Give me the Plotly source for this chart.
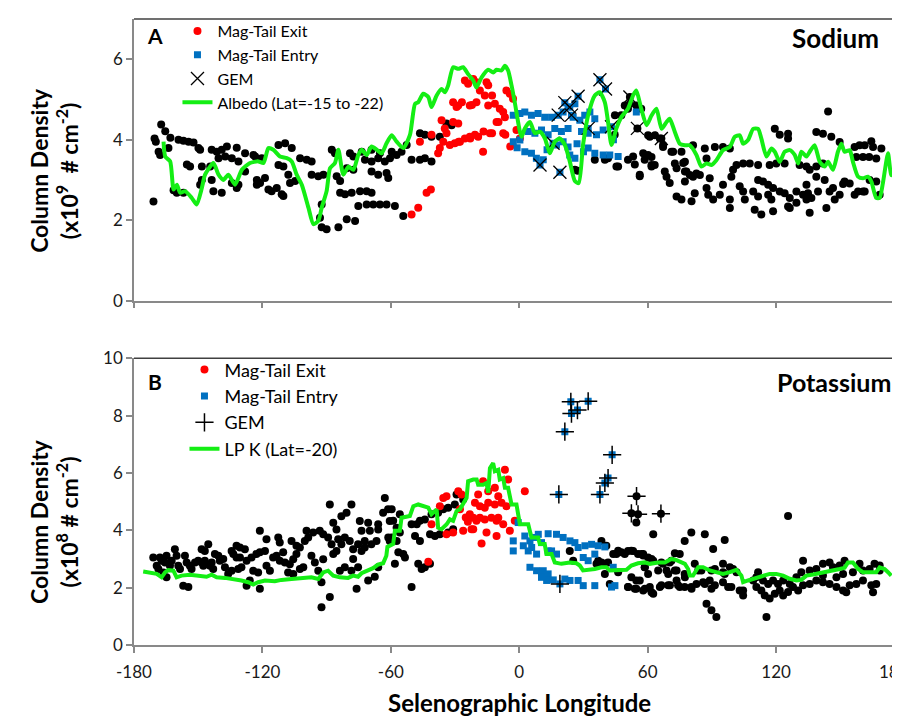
import plotly.graph_objects as go

# ---------------- Sodium (panel A) ----------------
na_background = [
    (-170.9,2.46),(-167.3,4.38),(-170.4,4.03),(-169.8,3.95),(-165.4,4.21),(-168.5,3.7),(-167.8,3.62),(-163,4.05),(-163.9,3.79),
    (-161.5,2.74),(-160,2.68),(-156.9,2.68),(-159.2,4.0),(-156.9,3.97),(-154.5,3.95),(-152.2,3.93),(-155.3,3.38),(-153.8,3.33),
    (-149.9,3.79),(-149.1,3.75),(-149.1,2.88),(-148.3,3.0),(-148.3,3.33),(-143.7,3.75),(-141.3,3.7),(-139,3.75),(-143.7,3.0),
    (-142.9,2.72),(-139,2.68),(-144.4,3.33),(-140.5,3.54),(-137.4,3.58),(-136.6,3.83),(-132,3.8),(-134.3,3.54),(-131.2,3.46),
    (-134.3,2.92),(-132,2.8),(-131.2,2.88),(-128.1,3.66),(-128.1,3.21),(-124.2,3.62),(-123.4,3.58),(-120.3,3.54),(-122.6,3.0),
    (-121.1,2.92),(-122.6,2.88),(-118.8,3.05),(-117.2,2.76),(-115.7,2.72),(-113.3,2.8),(-112.5,3.37),(-110.2,3.33),(-111,2.64),
    (-110.2,2.6),(-112.5,3.87),(-109.4,3.91),(-106.3,3.79),(-107.9,3.13),(-107.1,2.92),(-104.7,2.97),(-102.4,3.54),(-99.3,3.5),
    (-97,3.46),(-97,3.13),(-93.9,3.09),(-91.5,3.13),(-92.3,2.39),(-93.1,2.06),(-92.3,1.82),(-90,1.77),(-84.5,1.82),(-87.6,3.75),
    (-86.1,3.66),(-83.7,2.97),(-85.3,3.09),(-83.7,2.68),(-81.4,2.64),(-80.6,2.02),(-76.7,1.98),(-80.6,3.29),(-77.5,3.25),
    (-79.1,3.66),(-77.5,3.58),(-73.6,3.7),(-78.3,2.68),(-74.4,2.72),(-71.3,2.72),(-69,2.68),(-75.2,2.35),(-71.3,2.39),
    (-68.2,2.39),(-65.1,2.39),(-62,2.39),(-72.1,3.5),(-69,3.46),(-65.9,3.54),(-62.8,3.46),(-69,3.21),(-65.9,3.13),(-62,3.17),
    (-61.2,3.05),(-69,3.75),(-65.1,3.66),(-60.4,3.54),(-59.6,3.7),(-57.3,3.62),(-55,3.7),(-52.6,3.87),(-50.3,3.5),(-46.4,3.5),
    (-44.1,3.54),(-41,3.46),(-46.4,4.16),(-44.1,4.12),(-41,4.07),(-37.1,4.07),(-58.1,2.35),(-54.2,2.1),(-34,4.4),(-31.6,4.36),
    (27.3,3.23),(35.3,3.5),(40,3.5),(46.2,3.33),(50.8,3.5),(54,3.38),(56.3,3.13),(58.6,3.5),(47.7,4.61),(50.8,4.77),(54.7,4.85),
    (57,4.77),(44.6,4.12),(26,3.25),(41.5,3.54),(45.4,3.33),(53.2,3.58),(56.3,3.09),(57.9,3.66),(61.8,3.37),(49.3,4.85),
    (51.7,4.89),(44.7,4.61),(61,4.07),(63.4,4.11),(67.2,3.87),(71.1,3.7),(75.8,3.7),(76.6,3.42),(51.7,5.06),(55.2,4.28),(66.4,4.03),
    (144.3,4.7),(119.4,4.27),(121.7,4.12),(125.6,4.15),(125.6,4.03),(138.8,4.19),(141.9,4.15),(145.8,4.07),(149.7,3.94),
    (156.7,3.82),(159,3.86),(161.4,3.86),(164.5,3.96),(165.3,3.82),(169.2,3.78),(157.5,3.57),(160.6,3.57),(163.5,3.57),
    (166.8,3.53),(156.7,2.63),(161.4,2.71),(151.3,2.9),(154.4,2.91),(60.2,4.11),(65.7,4.03),(67.2,3.82),(60.2,3.62),
    (61.8,3.57),(63.3,3.37),(61.8,3.33),(68,3.21),(68.8,3.08),(70.3,2.92),(71.9,3.7),(72.7,3.41),(73.5,3.29),(77.4,3.45),
    (77.4,3.21),(78.1,3.21),(79.7,3.12),(81.2,3.08),(73.5,2.59),(75.8,2.51),(80.5,2.47),(77.4,2.96),(81.2,3.86),(82,2.67),
    (82.8,3.16),(86.7,3.78),(87.5,3.53),(91.4,3.82),(95.2,3.82),(98.4,3.78),(84.4,3.12),(89,3.04),(87.5,2.8),(88.3,2.63),
    (90.6,2.51),(93.7,2.63),(95.2,2.88),(99.1,3.08),(99.9,3.25),(101.5,3.37),(104.6,3.41),(107.7,3.41),(111.6,3.37),(98.4,2.51),
    (98.4,2.3),(103,2.84),(104.6,2.71),(105.4,2.51),(109.3,2.71),(111.6,2.59),(110,2.26),(113.1,2.14),(111.6,3.0),(113.9,2.96),
    (116.3,2.88),(118.6,2.8),(117,3.37),(120.1,3.41),(124,3.41),(116.3,2.63),(117.8,2.51),(118.6,2.22),(121.7,2.71),(124,2.67),
    (126.4,2.55),(129.5,2.71),(132.6,2.63),(134.9,2.67),(136.5,2.55),(139.6,2.71),(125.6,2.34),(126.4,2.3),(129.5,2.43),
    (134.2,2.51),(135.7,2.18),(131,3.37),(134.2,3.33),(135.7,3.25),(138.8,3.33),(141.9,3.41),(134.2,2.88),(138.8,3.08),
    (142.7,3.0),(143.5,2.3),(145,2.71),(146.6,2.8),(147.4,2.51),(149.7,2.63),(152,2.96),(158.3,2.71),(160.6,2.71),(163.7,3.0),
    (166.8,2.96),(168.4,2.63),
]
na_exit = [
    (-50.3,2.14),(-47.2,2.31),(-43.3,2.68),(-41.3,2.76),(-46.4,3.95),(-41,4.12),(-37.9,3.66),(-37.1,3.79),(-35.5,3.95),
    (-36.3,4.48),(-34.8,4.28),(-34,4.16),(-32.4,3.87),(-30.1,3.91),(-27.7,3.95),(-25.4,4.03),(-23.1,4.07),(-20.7,4.12),
    (-19.2,4.07),(-30.9,4.93),(-29.3,4.81),(-28.5,4.85),(-30.9,4.44),(-28.5,4.4),(-25.4,5.47),(-23.9,5.39),(-21.5,5.51),
    (-20,5.43),(-23.1,4.85),(-20,4.93),(-18.4,5.22),(-16.1,5.1),(-14.5,5.35),(-15.3,5.43),(-16.9,3.7),(-13.7,4.16),(-10.6,4.44),
    (-14.5,4.85),(-11.4,4.89),(-9.1,4.77),(-7.5,4.69),(-7.5,4.16),(-6,5.22),(-4.4,5.14),(-2.9,5.02),(-6.7,4.56),(-1.3,4.24),
    (0.3,4.03),(-26.8,4.93),(-22.1,4.86),(-12.7,5.1),(-9.7,4.44),(-28.3,3.95),(-22.9,4.03),(-16.7,4.2),(-12.7,4.16),
    (-4.2,3.83),(-6.5,4.12),
]
na_entry = [
    (-2.8,4.61),(0.3,4.65),(-2.8,3.95),(0.3,3.99),(2.6,4.69),(5.7,4.61),(8.8,4.65),(11.9,4.56),(15.1,4.56),(2.6,3.7),(5.7,3.66),
    (8,3.54),(11.2,3.5),(4.2,4.2),(7.3,4.16),(10.4,4.24),(13.5,4.12),(16.6,4.28),(19.7,4.2),(22.8,4.28),(17.4,3.87),(20.5,3.95),
    (22.8,3.82),(20.5,4.69),(22.8,4.81),(26,4.89),(25.2,4.56),(28.3,4.48),(30.6,4.61),(33,4.69),(35.3,4.52),(29.1,4.2),(32.2,4.16),
    (36.1,4.12),(39.2,4.24),(32.2,3.79),(35.3,3.66),(39.2,3.62),(42.3,3.62),(46.2,3.58),(23.6,3.62),(26,3.54),(37.7,5.49),
    (40.3,5.26),(54.7,4.69),(9.7,3.37),(19,3.19),(21.3,4.92),(27.5,5.08),(18.2,4.61),(24.4,4.61),(15.8,3.91),(43.1,4.32),
    (32.2,4.28),(-1,3.8),(13,3.75),(27,3.9),(30,3.7),(44,4.0),(23.6,4.81),
]
na_gem = [
    (9.7,3.37),(19,3.19),(21.3,4.92),(27.5,5.08),(18.2,4.61),(24.4,4.61),(37.7,5.49),(40.3,5.26),(51.7,5.06),(55.2,4.28),
    (66.4,4.03),(32.2,4.28),(15.8,3.91),(23.6,4.81),(43.1,4.32),
]
na_albedo = [
    (-166.2,3.95),(-165.4,3.58),(-163.1,3.46),(-161.5,2.76),(-160,2.88),(-158.4,2.68),(-156.1,2.72),(-153,2.55),(-150.7,2.39),
    (-148.3,2.8),(-146.8,3.13),(-142.9,3.42),(-140.5,3.13),(-138.2,3.0),(-135.9,3.13),(-132.8,2.88),(-129.6,3.25),(-125.8,3.42),
    (-121.9,3.46),(-119.5,3.42),(-117.2,3.79),(-114.9,3.75),(-111.8,3.58),(-108.6,3.54),(-106.3,3.46),(-104,3.13),(-101.6,2.88),
    (-98.5,2.31),(-96.2,1.9),(-93.9,1.98),(-92.3,2.31),(-90,2.72),(-88.4,3.29),(-86.1,3.42),(-84.5,3.75),(-82.2,3.13),
    (-79.8,3.33),(-77.5,3.25),(-75.2,3.62),(-73.6,3.75),(-71.3,3.62),(-69,3.83),(-66.6,3.75),(-64.3,3.66),(-62,3.91),
    (-59.6,4.11),(-57.3,3.95),(-54.2,3.79),(-51.1,4.11),(-48.7,4.89),(-47.2,4.93),(-44.9,5.14),(-42.5,5.06),(-41,4.81),
    (-38.6,5.1),(-36.3,5.26),(-34.7,5.18),(-33.2,5.35),(-30.9,5.8),(-28.5,5.76),(-26.2,5.8),(-23.9,5.63),(-21.5,5.47),
    (-20,5.3),(-17.6,5.55),(-14.5,5.74),(-12.2,5.67),(-10.6,5.74),(-8.3,5.72),(-6.7,5.84),(-5.2,5.72),(-3.6,5.35),(-2.1,4.93),
    (0.3,4.2),(1.1,4.07),(2.6,4.28),(5,4.44),(7.3,4.16),(9.6,4.2),(12,4.03),(14.3,3.66),(16.6,3.95),(19,4.03),(21.3,3.87),
    (23.6,3.46),(26,2.97),(27.8,2.92),(29.8,3.87),(32.2,4.61),(35.3,5.1),(37.6,5.18),(40,4.93),(41.5,4.44),(43.1,3.87),
    (45.4,4.28),(47.7,4.56),(50.8,4.77),(53.2,5.1),(54.7,5.22),(57,4.77),(59.5,4.36),(61.8,4.6),(64.1,4.77),(66.5,4.27),
    (68.8,4.44),(70.3,4.52),(72.7,4.19),(75,3.9),(77.4,3.86),(79.7,3.86),(82.8,3.62),(85.1,3.33),(87.5,3.41),(89.8,3.37),
    (92.1,3.49),(95.2,3.74),(98.4,3.82),(100.7,4.07),(103,4.11),(104.6,3.9),(106.9,3.99),(109.3,4.27),(111.6,4.27),(113.1,4.03),
    (115.5,3.58),(117.8,3.78),(119.4,3.7),(121.7,3.45),(124,3.7),(126.4,3.74),(128.7,3.62),(130.3,3.41),(131.8,3.7),(134.2,3.58),
    (135.7,3.7),(138,3.86),(140.4,3.45),(142.7,3.33),(144.3,3.45),(146.6,3.25),(148.9,3.7),(150.5,3.9),(152,3.7),(154.4,3.74),
    (155.9,3.45),(158.3,3.08),(160.6,3.04),(162.9,3.08),(164.5,2.96),(166.8,2.55),(168.4,2.55),(169.9,2.92),(172.3,3.66),
    (173.8,3.12),(174.6,3.12),
]

# ---------------- Potassium (panel B) ----------------
k_background = [
    (-171,3.05),(-169.4,2.76),(-167.9,3.05),(-167.1,2.94),(-165.5,2.88),(-164.8,3.11),(-168.6,2.65),(-166.3,2.53),(-164.8,2.36),
    (-163.2,2.76),(-160.9,3.34),(-160.1,3.11),(-162.4,2.94),(-159.3,2.76),(-158.5,2.65),(-157,2.07),(-154.6,2.02),(-156.2,3.11),
    (-155.4,2.88),(-153.9,2.76),(-153.1,2.65),(-151.5,2.88),(-150,2.94),(-148.4,2.88),(-147.6,2.76),(-148.4,3.34),(-146.9,3.28),
    (-145.3,3.51),(-146.9,2.94),(-144.5,2.76),(-143.7,2.88),(-143,2.65),(-142.2,3.17),(-140.6,3.11),(-139.9,2.94),(-138.3,3.0),
    (-137.5,2.71),(-136,2.48),(-134.4,2.59),(-134.4,3.28),(-133.6,3.17),(-132.1,3.05),(-130.5,3.05),(-132.1,3.46),(-130.5,3.4),
    (-128.2,3.34),(-131.3,2.65),(-129.8,2.71),(-127.4,2.07),(-125.9,2.25),(-127.4,2.94),(-125.1,3.05),(-122.8,3.17),(-121.2,3.23),
    (-118.8,3.28),(-124.3,2.59),(-122,2.53),(-121.2,1.96),(-121.2,3.98),(-118.1,3.69),(-118.1,2.76),(-116.5,2.59),(-115,3.05),
    (-113.4,3.11),(-111.9,2.94),(-110.3,3.23),(-112.6,3.75),(-111.9,3.57),(-109.5,2.88),(-107.2,2.82),(-105.6,2.99),(-104.1,3.17),
    (-106.4,3.63),(-104.1,3.46),(-102.5,3.4),(-100.2,3.63),(-108,2.53),(-105.6,2.48),(-102.5,2.65),(-100.9,2.71),(-99.4,3.98),
    (-98.6,3.75),(-96.3,3.92),(-97.1,3.11),(-95.5,2.88),(-93.2,3.98),(-91.6,3.86),(-92.4,2.19),(-92.4,1.32),(-88.5,1.67),
    (-91.6,2.99),(-93.9,2.59),(-88.5,4.9),(-86.9,4.26),(-85.4,4.03),(-83.1,4.49),(-80.7,4.61),(-78.4,4.9),(-89.3,3.75),
    (-87.7,3.51),(-84.6,3.69),(-85.4,3.28),(-83.1,3.51),(-81.5,3.75),(-79.2,3.63),(-86.9,3.17),(-83.8,2.59),(-81.5,2.71),
    (-78.4,2.59),(-77.6,3.34),(-75.3,3.51),(-73.7,3.28),(-72.2,3.4),(-77.6,3.0),(-75.3,2.71),(-76,1.96),(-74.5,4.32),(-73.7,3.98),
    (-70.6,4.26),(-69.8,3.98),(-72.2,3.63),(-69.1,3.51),(-66.7,3.63),(-65.9,4.03),(-65.9,4.21),(-70.6,2.25),(-67.5,2.38),
    (-65.9,2.71),(-62.8,5.13),(-63.6,4.61),(-61.3,4.73),(-60.5,4.32),(-60.5,3.63),(-59.6,4.73),(-55.8,4.56),(-58.9,4.33),
    (-57.3,4.09),(-55.8,3.92),(-61.2,3.75),(-59.6,3.75),(-57.3,3.63),(-56.5,3.23),(-54.2,3.17),(-53.4,3.05),(-58.1,2.83),
    (-47.2,2.83),(-45.6,2.65),(-44.1,2.71),(-41.7,2.83),(-50.3,2.02),(-50.3,4.21),(-47.9,4.21),(-46.4,4.33),(-48.7,3.8),
    (-46.4,3.63),(-44.1,4.38),(-41.7,3.86),(-39.4,3.8),(-37.1,3.86),(-41,4.56),(-37.9,4.61),(-35.5,4.73),(-33.2,4.79),(-30.1,4.9),
    (-29.3,5.25),(-26.2,5.07),(-33.2,3.92),(-30.9,4.04),
    (23.6,3.28),(25.2,2.94),(38.4,3.63),(40.7,3.46),(38.4,2.88),(36.1,2.83),(41.5,2.88),(45.4,3.17),(47.7,3.23),(50.8,3.28),
    (53.2,3.28),(55.5,3.17),(57.9,3.17),(60.2,3.05),(40,2.48),(42.3,2.13),(46.2,2.54),(50.8,2.02),(54.7,1.96),(57.9,1.9),
    (54.7,2.25),(58.6,2.71),(54.7,4.27),(54.8,5.19),(52.4,4.59),(55.5,4.56),(66.2,4.58),
    (62.6,3.86),(77.3,3.63),(80.4,3.92),(86.7,3.86),(90.6,3.35),(96,3.66),(125.6,4.5),(72.7,3.2),(70.3,2.88),(62.6,2.94),
    (67.2,2.83),(68.8,2.6),(73.5,2.6),(57.9,3.12),(58.7,2.71),(61,2.02),(62.6,1.79),(65.7,2.02),(69.6,2.08),(73.5,2.25),
    (75,2.02),(77.4,2.36),(80.5,1.96),(82.8,2.13),(85.9,2.19),(89,2.25),(91.4,2.08),(95.2,2.19),(97.6,2.02),(103,1.9),
    (104.6,1.73),(82,2.83),(85.1,2.6),(91.4,2.65),(95.2,2.54),(99.9,2.65),(87.5,1.44),(89.8,1.21),(92.1,0.98),(115.5,0.98),
    (111.6,2.54),(109.3,2.25),(110.8,2.02),(113.1,1.9),(114.7,1.73),(117,1.62),(119.4,1.79),(121.7,1.9),(123.3,1.73),
    (125.6,1.85),(127.9,2.02),(130.3,1.9),(132.6,2.08),(135.7,2.13),(138.8,2.25),(141.9,2.19),(145,2.13),(148.2,2.02),
    (151.3,1.9),(154.4,2.08),(157.5,2.13),(160.6,2.25),(164.5,2.08),(166.8,2.13),(168.4,2.6),(110.8,2.36),(113.9,2.25),
    (116.3,2.13),(118.6,2.25),(120.9,2.13),(123.3,2.25),(126.4,2.13),(129.5,2.36),(131.8,2.54),(132.6,2.94),(135.7,2.6),
    (138.8,2.65),(141.9,2.83),(145,2.88),(146.6,2.71),(149.7,2.77),(152,2.94),(155.9,2.54),(159,2.83),(160.6,2.6),(163.7,2.65),
    (166,2.83),(168.4,2.77),(151.3,2.48),(148.2,2.36),(141.9,2.42),(165.3,1.84),(152.8,1.84),(101.5,2.54),(104.6,1.9),
    (95.2,2.83),(98.4,2.71),(36.9,2.94),(40,2.83),(43.9,3.17),(46.2,3.29),(49.3,3.17),(52.4,3.29),(57.1,3.17),(61.8,3.0),
    (66.4,2.88),(71.1,2.94),(75,3.17),(50.9,2.02),(54,1.96),(58.7,1.96),(61.8,1.84),(66.4,2.08),(70.4,2.08),(74.2,2.08),
    (77.3,2.02),(80.4,2.02),(86.7,2.13),(89.8,1.96),(99.1,2.02),(52.4,2.36),(56.3,2.25),(60.2,2.48),(64.9,2.6),(69.6,2.48),
    (72.7,2.6),(77.3,2.48),(83.6,2.6),(89.8,2.6),(96,2.48),
]
k_exit = [
    (-42.5,2.9),(-41,4.21),(-37.1,4.84),(-35.5,5.13),(-34,5.19),(-34,3.86),(-30.9,3.92),(-28.5,5.36),(-27,5.25),(-27.7,4.73),
    (-26.2,3.98),(-22.3,4.04),(-23.1,4.56),(-21.5,4.44),(-20,4.33),(-18.4,4.44),(-16.1,4.38),(-13,4.44),(-10.6,4.33),(-9.8,4.44),
    (-20.7,4.96),(-18.4,4.84),(-16.1,4.79),(-14.5,4.96),(-11.4,4.9),(-8.3,4.96),(-6,4.84),(-19.2,5.25),(-16.9,5.71),(-14.5,5.36),
    (-11.4,5.48),(-9.8,5.19),(-6.7,6.11),(-5.2,5.77),(-21.5,4.04),(-15.3,3.92),(-10.6,3.8),(-17.6,3.54),(-7.5,4.21),(-4.4,3.98),
    (2.6,5.36),(-2.1,4.33),(-24,4.3),(-25,4.45),
]
k_entry = [
    (-2.8,3.63),(-2.8,3.28),(-0.5,4.27),(2.6,3.8),(5,3.63),(7.3,3.75),(8.9,3.86),(13.5,3.88),(17.4,3.86),(20.5,3.75),(23.7,3.63),
    (26,3.57),(1.9,3.46),(4.2,3.28),(5.8,3.4),(8.1,3.17),(10.4,3.57),(13.5,3.28),(5,2.71),(8.1,2.59),(11.2,2.59),(13.5,2.48),
    (12.8,2.25),(15.9,2.27),(21.3,2.3),(23.7,2.25),(27.5,2.25),(29.9,2.07),(27.5,3.4),(30.7,3.46),(33.8,3.51),(36.9,3.46),
    (40,3.42),(29.9,3.05),(32.2,2.94),(35.3,3.17),(35.3,2.07),(43.1,2.02),(44.7,2.07),(15.1,3.28),(17.4,3.17),(43.9,2.71),
    (10.4,2.36),(19,2.13),(18.5,5.25),(21.3,7.44),(24.1,8.48),(24.4,8.07),(27.2,8.19),(32.2,8.5),(37.7,5.25),(40,5.65),
    (41.5,5.82),(43.4,6.63),
]
k_gem = [
    (18.5,5.25),(21.3,7.44),(24.1,8.48),(24.4,8.07),(27.2,8.19),(32.2,8.5),(37.7,5.25),(40,5.65),(41.5,5.82),(43.4,6.63),
    (54.8,5.19),(52.4,4.59),(55.5,4.56),(66.2,4.58),(19,2.13),
]
k_lpk = [
    (-175.7,2.56),(-171.8,2.53),(-169.4,2.48),(-167.1,2.36),(-165.5,2.53),(-164,2.61),(-161.6,2.59),(-160.1,2.36),(-157.8,2.42),
    (-153.9,2.45),(-150,2.42),(-146.1,2.38),(-143.7,2.45),(-141.4,2.36),(-137.5,2.34),(-133.6,2.3),(-129.8,2.25),(-126.6,2.19),
    (-124.3,2.11),(-122,2.19),(-118.8,2.25),(-114.2,2.22),(-111.1,2.27),(-106.4,2.3),(-101.7,2.34),(-97.1,2.36),(-93.9,2.3),
    (-91.6,2.53),(-89.3,2.59),(-86.9,2.42),(-83.8,2.36),(-80,2.34),(-77.6,2.42),(-75.3,2.38),(-73.7,2.5),(-70.6,2.59),
    (-68.3,2.68),(-66,2.8),(-63.6,2.85),(-62.1,3.11),(-61.6,3.42),(-58.9,3.52),(-58.1,3.98),(-55.8,3.98),(-55,4.44),(-51.1,4.5),
    (-49.5,4.84),(-47.2,4.9),(-44.1,4.84),(-42.5,4.79),(-41,4.56),(-38.6,4.73),(-37.9,4.09),(-36.3,4.04),(-33.9,4.21),
    (-32.4,4.38),(-30.9,4.33),(-29.3,4.67),(-27.7,4.73),(-26.2,4.9),(-24.6,5.13),(-23.9,5.71),(-21.5,5.77),(-19.9,5.77),
    (-19.2,5.59),(-16.9,5.59),(-15.3,5.65),(-14.5,5.31),(-13.7,6.17),(-12.2,6.34),(-11.4,6.06),(-9.8,6.11),(-9.1,5.77),
    (-7.5,5.82),(-6.7,5.48),(-5.2,5.48),(-3.6,4.9),(-1.3,4.9),(0.3,4.21),(4.2,4.21),(5.7,3.75),(8.8,3.75),(9.6,3.52),(11.9,3.52),
    (12.7,3.17),(15.1,3.17),(16.6,2.88),(19.7,2.83),(23.6,2.88),(26.7,2.85),(28.3,2.77),(29.8,2.6),(32.2,2.62),(35.3,2.65),
    (38.4,2.71),(40.7,2.71),(42.3,2.6),(44.6,2.6),(47.7,2.62),(50.1,2.62),(52.4,2.77),(55.5,2.85),(58.6,2.88),(61,2.83),
    (64.9,2.88),(68,2.88),(71.1,3.0),(73.5,2.96),(77.4,2.83),(78.9,2.65),(79.7,2.42),(81.2,2.42),(83.6,2.71),(85.9,2.71),
    (89,2.6),(91.4,2.54),(95.2,2.48),(98.4,2.54),(101.5,2.62),(103.8,2.42),(104.6,2.19),(106.9,2.25),(109.3,2.31),(111.6,2.37),
    (113.9,2.42),(117,2.48),(120.1,2.48),(123.3,2.42),(126.4,2.31),(129.5,2.25),(131.8,2.27),(134.2,2.42),(137.3,2.46),
    (140.4,2.5),(143.5,2.54),(146.6,2.6),(149.7,2.65),(152,2.69),(153.6,2.88),(155.9,2.88),(158.3,2.65),(160.6,2.54),
    (163.7,2.54),(166.8,2.54),(168.4,2.71),(170.7,2.65),(172.3,2.54),(173.8,2.42),
]

x_ticks = [-180, -120, -60, 0, 60, 120, 180]
x_tick_labels = ["-180", "-120", "-60", "0", "60", "120", "180"]
na_y_ticks = [0, 2, 4, 6]
k_y_ticks = [0, 2, 4, 6, 8, 10]

FONT = "Lato, 'Open Sans', sans-serif"
RED = "#ff0000"
BLUE = "#0070c0"
GREEN = "#14ee14"


def xy(pairs):
    return [p[0] for p in pairs], [p[1] for p in pairs]


fig = go.Figure()

# ---- panel A traces ----
x, y = xy(na_background)
fig.add_trace(go.Scatter(x=x, y=y, mode="markers", showlegend=False, xaxis="x", yaxis="y",
                         marker=dict(color="black", size=8, line=dict(width=0))))
x, y = xy(na_exit)
fig.add_trace(go.Scatter(x=x, y=y, mode="markers", name="Mag-Tail Exit", xaxis="x", yaxis="y",
                         legend="legend", legendgroup="a1",
                         marker=dict(color=RED, size=8, symbol="circle", line=dict(width=0))))
x, y = xy(na_entry)
fig.add_trace(go.Scatter(x=x, y=y, mode="markers", name="Mag-Tail Entry", xaxis="x", yaxis="y",
                         legend="legend", legendgroup="a2",
                         marker=dict(color=BLUE, size=7, symbol="square", line=dict(width=0))))
x, y = xy(na_gem)
fig.add_trace(go.Scatter(x=x, y=y, mode="markers", name="GEM", xaxis="x", yaxis="y",
                         legend="legend", legendgroup="a3",
                         marker=dict(color="black", size=13, symbol="x-thin", line=dict(width=1.3, color="black"))))
x, y = xy(na_albedo)
fig.add_trace(go.Scatter(x=x, y=y, mode="lines", name="Albedo (Lat=-15 to -22)", xaxis="x", yaxis="y",
                         legend="legend", legendgroup="a4",
                         line=dict(color=GREEN, width=4, shape="spline", smoothing=0.6)))

# ---- panel B traces ----
x, y = xy(k_background)
fig.add_trace(go.Scatter(x=x, y=y, mode="markers", showlegend=False, xaxis="x2", yaxis="y2",
                         marker=dict(color="black", size=8, line=dict(width=0))))
x, y = xy(k_exit)
fig.add_trace(go.Scatter(x=x, y=y, mode="markers", name="Mag-Tail Exit", xaxis="x2", yaxis="y2",
                         legend="legend2", legendgroup="b1",
                         marker=dict(color=RED, size=8, symbol="circle", line=dict(width=0))))
x, y = xy(k_entry)
fig.add_trace(go.Scatter(x=x, y=y, mode="markers", name="Mag-Tail Entry", xaxis="x2", yaxis="y2",
                         legend="legend2", legendgroup="b2",
                         marker=dict(color=BLUE, size=7, symbol="square", line=dict(width=0))))
x, y = xy(k_gem)
fig.add_trace(go.Scatter(x=x, y=y, mode="markers", name="GEM", xaxis="x2", yaxis="y2",
                         legend="legend2", legendgroup="b3",
                         marker=dict(color="black", size=13, symbol="cross-thin", line=dict(width=1.5, color="black"))))
x, y = xy(k_lpk)
fig.add_trace(go.Scatter(x=x, y=y, mode="lines", name="LP K (Lat=-20)", xaxis="x2", yaxis="y2",
                         legend="legend2", legendgroup="b4",
                         line=dict(color=GREEN, width=4)))

# ---- layout geometry ----
# the page body has an 8px margin on every side; keep the figure inside the window so no scrollbar appears
OFF = 8
W, H = 900 - OFF, 725 - 2 * OFF
PL, PT, PB = 133.5, 12, 645          # plot area edges in window pixels
L, T = PL - OFF, PT - OFF
B = H - (PB - OFF)
PH = PB - PT
PW = 900 - PL


def fy(py):
    return 1 - (py - PT) / PH


def fx(px):
    return (px - PL) / PW


axis_common = dict(range=[-180, -180 + PW / (128.5 / 60)], tickvals=x_ticks, ticktext=x_tick_labels,
                   showgrid=False, zeroline=False,
                   showline=True, linecolor="#898989", linewidth=1.5,
                   ticks="outside", ticklen=6, tickwidth=1.5, tickcolor="#898989",
                   tickfont=dict(family=FONT, size=17, color="#1a1a1a"))
yaxis_common = dict(showgrid=False, zeroline=False, showline=True, linecolor="#898989", linewidth=1.5,
                    ticks="outside", ticklen=6, tickwidth=1.5, tickcolor="#898989",
                    tickfont=dict(family=FONT, size=17, color="#1a1a1a"))

fig.update_layout(
    width=W, height=H,
    margin=dict(l=L, r=0, t=T, b=B, pad=0),
    paper_bgcolor="white", plot_bgcolor="white",
    font=dict(family=FONT, color="black"),
    xaxis=dict(axis_common, anchor="y", showticklabels=False),
    yaxis=dict(yaxis_common, domain=[fy(296.7), 1], range=[0, 7], tickvals=na_y_ticks),
    xaxis2=dict(axis_common, anchor="y2", ticklabelstandoff=5),
    yaxis2=dict(yaxis_common, domain=[0, fy(355)], range=[0, 10], tickvals=k_y_ticks),
    legend=dict(x=fx(177), y=fy(7), xanchor="left", yanchor="top", bgcolor="rgba(0,0,0,0)",
                font=dict(family=FONT, size=16, color="black"), tracegroupgap=0, borderwidth=0),
    legend2=dict(x=fx(184), y=fy(348), xanchor="left", yanchor="top", bgcolor="rgba(0,0,0,0)",
                 font=dict(family=FONT, size=18, color="black"), tracegroupgap=0, borderwidth=0),
    showlegend=True,
)

# top frame lines of each panel
for yref in ["y domain", "y2 domain"]:
    fig.add_shape(type="line", xref="paper", yref=yref, x0=0, x1=1, y0=1, y1=1,
                  line=dict(color="#404040", width=1.5))

ann = []
bold = dict(family=FONT, color="black")
ann.append(dict(text="<b>A</b>", x=fx(155), y=fy(29), font=dict(bold, size=21)))
ann.append(dict(text="<b>Sodium</b>", x=fx(835), y=fy(31), font=dict(bold, size=26)))
ann.append(dict(text="<b>B</b>", x=fx(155), y=fy(379), font=dict(bold, size=21)))
ann.append(dict(text="<b>Potassium</b>", x=fx(834), y=fy(379), font=dict(bold, size=25)))
ann.append(dict(text="<b>Column Density</b><br><b>(x10<sup>9</sup>  # cm<sup>-2</sup>)</b>",
                x=fx(54), y=fy(165), textangle=-90, font=dict(bold, size=23)))
ann.append(dict(text="<b>Column Density</b><br><b>(x10<sup>8</sup> # cm<sup>-2</sup>)</b>",
                x=fx(54), y=fy(520), textangle=-90, font=dict(bold, size=23)))
ann.append(dict(text="<b>Selenographic Longitude</b>", x=fx(519), y=fy(703), font=dict(bold, size=24)))
ann.append(dict(text="180", x=fx(894), y=fy(672), font=dict(family=FONT, size=17, color="#1a1a1a")))
for a in ann:
    a.update(xref="paper", yref="paper", showarrow=False, xanchor="center", yanchor="middle")
    fig.add_annotation(**a)

fig.write_html("out.html")
